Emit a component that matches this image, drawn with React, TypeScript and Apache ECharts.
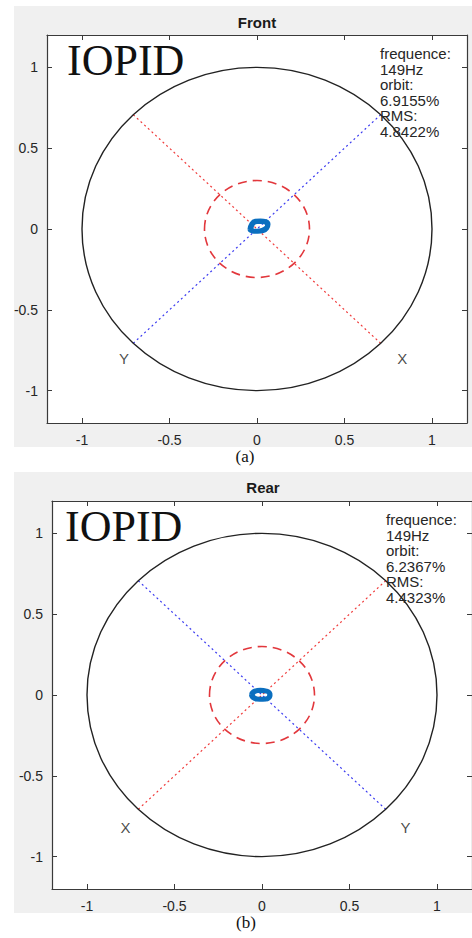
import React, { useEffect, useRef } from "react";
import * as echarts from "echarts";

// ---- data ----
const tickValues = [-1, -0.5, 0, 0.5, 1];
const panelTitles = ["Front", "Rear"];
const captions = ["(a)", "(b)"];
const frequences = ["149Hz", "149Hz"];
const orbitPcts = ["6.9155%", "6.2367%"];
const rmsPcts = ["4.8422%", "4.4323%"];
const unitCircle = [[0, 0, 1]];
const limitCircle = [[0, 0, 0.3]];
const diagDown = [[-0.7071, 0.7071], [0.7071, -0.7071]];
const diagUp = [[-0.7071, -0.7071], [0.7071, 0.7071]];
// direction labels: [x, y, name]
const dirLabelsFront = [[0.83, -0.8, "X"], [-0.76, -0.8, "Y"]];
const dirLabelsRear = [[-0.78, -0.82, "X"], [0.82, -0.82, "Y"]];
const orbitFront = [
  [-0.04, -0.002], [-0.03, 0.03], [-0.01, 0.048], [0.02, 0.05], [0.05, 0.045], [0.063, 0.03],
  [0.055, 0.005], [0.035, -0.01], [0.005, -0.014], [-0.025, -0.012], [-0.04, -0.002],
  [-0.036, 0.004], [-0.024, 0.034], [0.0, 0.046], [0.03, 0.047], [0.056, 0.038], [0.06, 0.02],
  [0.045, 0.0], [0.015, -0.012], [-0.018, -0.014], [-0.036, 0.004],
];
const orbitRear = [
  [-0.06, 0.0], [-0.05, 0.02], [-0.02, 0.028], [0.015, 0.027], [0.04, 0.017], [0.046, -0.002],
  [0.035, -0.02], [0.005, -0.027], [-0.03, -0.025], [-0.055, -0.012], [-0.06, 0.0],
  [-0.056, 0.004], [-0.042, 0.022], [-0.01, 0.029], [0.025, 0.024], [0.044, 0.008], [0.042, -0.012],
  [0.02, -0.025], [-0.015, -0.027], [-0.045, -0.018], [-0.056, 0.004],
];

const SANS = "Liberation Sans, Arial, sans-serif";
const SERIF = "Liberation Serif, Times New Roman, serif";
const AXIS_COLOR = "#3a3a3a";
const TEXT_COLOR = "#262626";

const panels = [
  { grid: { left: 47, top: 35, width: 420, height: 388 }, bg: [14, 6, 458, 441], title: [257, 22], iopid: [67, 60], note: [380, 46], caption: [245, 456], redDown: true, orbit: orbitFront, dirs: dirLabelsFront },
  { grid: { left: 52, top: 501, width: 421, height: 388 }, bg: [14, 472, 458, 441], title: [263, 487], iopid: [65, 526], note: [386, 512], caption: [246, 922], redDown: false, orbit: orbitRear, dirs: dirLabelsRear },
];

function circleRender(stroke: string, lineWidth: number, dash: number[] | null) {
  return (params: any, api: any) => {
    const c = api.coord([api.value(0), api.value(1)]);
    const s = api.size([api.value(2), api.value(2)]);
    return {
      type: "ellipse",
      shape: { cx: c[0], cy: c[1], rx: s[0], ry: s[1] },
      style: { fill: "none", stroke, lineWidth, lineDash: dash || undefined },
    };
  };
}

export default function App() {
  const ref = useRef<HTMLDivElement>(null);
  useEffect(() => {
    if (!ref.current) return;
    const chart = echarts.init(ref.current, null, { renderer: "svg" });
    const grids: any[] = [];
    const xAxes: any[] = [];
    const yAxes: any[] = [];
    const series: any[] = [];
    const graphics: any[] = [];

    panels.forEach((p, i) => {
      grids.push({ ...p.grid, show: true, backgroundColor: "#ffffff", borderWidth: 0, z: 0 });
      const base = {
        type: "value",
        min: -1.2,
        max: 1.2,
        gridIndex: i,
        splitLine: { show: false },
        axisLine: { show: true, onZero: false, lineStyle: { color: AXIS_COLOR, width: 1.2 } },
        axisTick: { show: true, inside: true, length: 5, customValues: tickValues, lineStyle: { color: AXIS_COLOR } },
      };
      xAxes.push({
        ...base,
        position: "bottom",
        axisLabel: { show: true, customValues: tickValues, margin: 10, color: TEXT_COLOR, fontSize: 14, fontFamily: SANS, formatter: (v: number) => String(v) },
      });
      xAxes.push({ ...base, position: "top", axisLabel: { show: false } });
      yAxes.push({
        ...base,
        position: "left",
        axisLabel: { show: true, customValues: tickValues, margin: 9, color: TEXT_COLOR, fontSize: 14, fontFamily: SANS, formatter: (v: number) => String(v) },
      });
      yAxes.push({ ...base, position: "right", axisLabel: { show: false } });

      const xi = i * 2;
      const yi = i * 2;
      const lineBase = { type: "line", xAxisIndex: xi, yAxisIndex: yi, symbol: "none", silent: true };
      series.push({ ...lineBase, data: diagDown, lineStyle: { color: p.redDown ? "#f03c3c" : "#3c3cf0", width: 1.2, type: [2, 3] }, z: 3 });
      series.push({ ...lineBase, data: diagUp, lineStyle: { color: p.redDown ? "#3c3cf0" : "#f03c3c", width: 1.2, type: [2, 3] }, z: 3 });
      series.push({ type: "custom", xAxisIndex: xi, yAxisIndex: yi, coordinateSystem: "cartesian2d", data: unitCircle, encode: { x: 0, y: 1 }, renderItem: circleRender("#222222", 1.4, null), silent: true, z: 4 });
      series.push({ type: "custom", xAxisIndex: xi, yAxisIndex: yi, coordinateSystem: "cartesian2d", data: limitCircle, encode: { x: 0, y: 1 }, renderItem: circleRender("#e2373c", 1.6, [9, 6]), silent: true, z: 4 });
      series.push({ ...lineBase, data: p.orbit, smooth: true, lineStyle: { color: "#0b6fbf", width: 5 }, z: 5 });
      series.push({
        type: "scatter", xAxisIndex: xi, yAxisIndex: yi, symbolSize: 0, silent: true,
        data: p.dirs.map((d) => ({ value: [d[0], d[1]], name: d[2] })),
        label: { show: true, position: "inside", formatter: "{b}", color: "#1a1a1a", fontSize: 15, fontFamily: SANS },
      });

      graphics.push({ type: "rect", z: -5, shape: { x: p.bg[0], y: p.bg[1], width: p.bg[2], height: p.bg[3] }, style: { fill: "#f0f0f0" }, silent: true });
      graphics.push({ type: "text", z: 50, x: p.title[0], y: p.title[1], style: { text: panelTitles[i], fontFamily: SANS, fontSize: 15, fontWeight: "bold", fill: "#1a1a1a", textAlign: "center", textVerticalAlign: "middle" } });
      graphics.push({ type: "text", z: 50, x: p.iopid[0], y: p.iopid[1], style: { text: "IOPID", fontFamily: SERIF, fontSize: 44, fill: "#111", textAlign: "left", textVerticalAlign: "middle" } });
      graphics.push({
        type: "text", z: 50, x: p.note[0], y: p.note[1],
        style: {
          text: ["frequence:", frequences[i], "orbit:", orbitPcts[i], "RMS:", rmsPcts[i]].join("\n"),
          fontFamily: SANS, fontSize: 15, lineHeight: 15.5, fill: TEXT_COLOR, textAlign: "left", textVerticalAlign: "top",
        },
      });
      graphics.push({ type: "text", z: 50, x: p.caption[0], y: p.caption[1], style: { text: captions[i], fontFamily: SERIF, fontSize: 17, fill: "#111", textAlign: "center", textVerticalAlign: "middle" } });
    });

    chart.setOption({
      animation: false,
      backgroundColor: "#ffffff",
      grid: grids,
      xAxis: xAxes,
      yAxis: yAxes,
      series,
      graphic: graphics,
    });
    return () => chart.dispose();
  }, []);
  return <div ref={ref} style={{ position: "fixed", left: 0, top: 0, width: 472, height: 938 }} />;
}
